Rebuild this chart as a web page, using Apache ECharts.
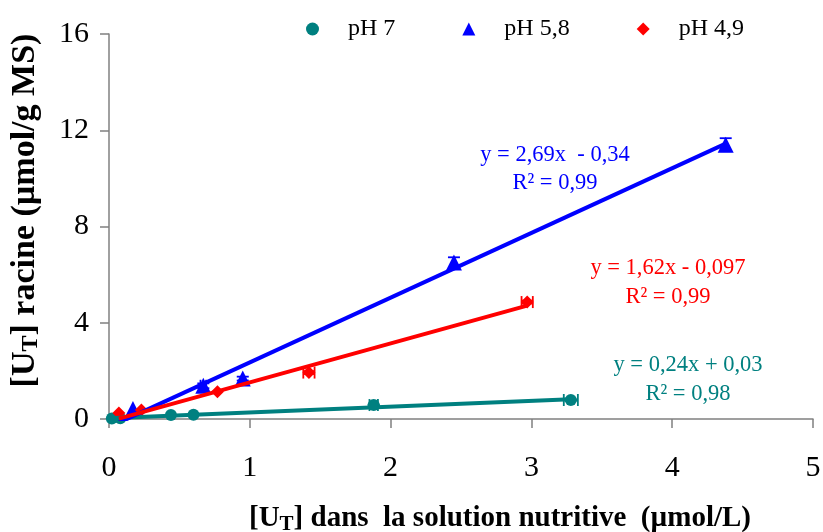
<!DOCTYPE html>
<html>
<head>
<meta charset="utf-8">
<script src="https://cdn.jsdelivr.net/npm/echarts@6/dist/echarts.min.js"></script>
<style>
  html, body { margin: 0; padding: 0; background: #fff; }
  #chart { width: 823px; height: 532px; }
</style>
</head>
<body>
<div id="chart"></div>
<script>
// Uranium in roots vs. uranium in nutrient solution, three pH levels
const seriesNames = ['pH 7', 'pH 5,8', 'pH 4,9'];
const colors = ['#008080', '#0000FF', '#FF0000'];

// Measured points [U in solution (µmol/L), U in root (µmol/g MS)]
const ph7Points = [[0.02, 0.02], [0.08, 0.03], [0.44, 0.17], [0.60, 0.18], [1.88, 0.58], [3.28, 0.79]];
const ph58Points = [[0.17, 0.42], [0.67, 1.38], [0.95, 1.68], [2.45, 6.50], [4.38, 11.40]];
const ph49Points = [[0.07, 0.25], [0.23, 0.37], [0.77, 1.13], [1.42, 1.93], [2.97, 4.86]];

// Error bars [x, y, yErr, xErr]
const ph7Errors = [[1.88, 0.58, 0.02, 0.03], [3.28, 0.79, 0.03, 0.05]];
const ph58Errors = [[0.67, 1.38, 0.10, 0.02], [0.95, 1.68, 0.08, 0.0], [2.45, 6.50, 0.22, 0.0], [4.38, 11.40, 0.27, 0.0]];
const ph49Errors = [[1.42, 1.93, 0.06, 0.04], [2.97, 4.86, 0.06, 0.04]];

// Linear fits: slope, intercept and fitted x-range
const slopes = [0.24, 2.69, 1.62];
const intercepts = [0.03, -0.34, -0.097];
const fitRanges = [[0.0, 3.28], [0.07, 4.38], [0.07, 2.97]];
const equations = ['y = 0,24x + 0,03', 'y = 2,69x  - 0,34', 'y = 1,62x - 0,097'];
const r2Labels = ['R² = 0,98', 'R² = 0,99', 'R² = 0,99'];

// Axis ticks
const xTicks = [0, 1, 2, 3, 4, 5];
const yTicks = [0, 4, 8, 12, 16];

const FONT = '"Liberation Serif", "Times New Roman", serif';
const symbols = ['circle', 'triangle', 'diamond'];
const symbolSizes = [12, 16, 13];
const pointSets = [ph7Points, ph58Points, ph49Points];
const errorSets = [ph7Errors, ph58Errors, ph49Errors];

function fitLine(i) {
  return fitRanges[i].map(x => [x, slopes[i] * x + intercepts[i]]);
}

function errorRenderer(color) {
  return function (params, api) {
    const x = api.value(0), y = api.value(1), ey = api.value(2), ex = api.value(3);
    const top = api.coord([x, y + ey]);
    const bot = api.coord([x, y - ey]);
    const left = api.coord([x - ex, y]);
    const right = api.coord([x + ex, y]);
    const cap = 6;
    const style = { stroke: color, lineWidth: 1.8 };
    const children = [];
    if (ey > 0) {
      children.push(
        { type: 'line', shape: { x1: top[0], y1: top[1], x2: bot[0], y2: bot[1] }, style },
        { type: 'line', shape: { x1: top[0] - cap, y1: top[1], x2: top[0] + cap, y2: top[1] }, style },
        { type: 'line', shape: { x1: bot[0] - cap, y1: bot[1], x2: bot[0] + cap, y2: bot[1] }, style }
      );
    }
    if (ex > 0) {
      children.push(
        { type: 'line', shape: { x1: left[0], y1: left[1], x2: right[0], y2: right[1] }, style },
        { type: 'line', shape: { x1: left[0], y1: left[1] - cap, x2: left[0], y2: left[1] + cap }, style },
        { type: 'line', shape: { x1: right[0], y1: right[1] - cap, x2: right[0], y2: right[1] + cap }, style }
      );
    }
    return { type: 'group', children };
  };
}

const series = [];
seriesNames.forEach((name, i) => {
  series.push({
    name: name,
    type: 'scatter',
    data: pointSets[i],
    symbol: symbols[i],
    symbolSize: symbolSizes[i],
    itemStyle: { color: colors[i], opacity: 1 },
    z: 3
  });
  series.push({
    type: 'custom',
    data: errorSets[i],
    renderItem: errorRenderer(colors[i]),
    encode: { x: 0, y: 1 },
    silent: true,
    z: 3
  });
  series.push({
    type: 'line',
    data: fitLine(i),
    showSymbol: false,
    symbol: 'none',
    lineStyle: { color: colors[i], width: 4 },
    clip: true,
    silent: true,
    z: 4
  });
});

const richSub = {
  sub: { fontSize: 21, fontWeight: 'bold', fontFamily: FONT, color: '#000', padding: [11, 0, 0, 0] }
};
const richSubY = {
  sub: { fontSize: 24, fontWeight: 'bold', fontFamily: FONT, color: '#000', padding: [12, 0, 0, 0] }
};

const eqPos = [[688, 365, 394], [555, 155, 183], [668, 268, 297]];
const graphics = [];
for (let i = 0; i < 3; i++) {
  graphics.push({
    type: 'text', x: eqPos[i][0], y: eqPos[i][1],
    style: { text: equations[i], fill: colors[i], font: '22.5px ' + FONT, align: 'center', verticalAlign: 'middle' }
  });
  graphics.push({
    type: 'text', x: eqPos[i][0], y: eqPos[i][2],
    style: { text: r2Labels[i], fill: colors[i], font: '22.5px ' + FONT, align: 'center', verticalAlign: 'middle' }
  });
}

const chart = echarts.init(document.getElementById('chart'), null, { renderer: 'canvas' });
chart.setOption({
  animation: false,
  backgroundColor: '#fff',
  grid: { left: 109, right: 10, top: 34, bottom: 113, containLabel: false, outerBoundsMode: 'none' },
  legend: {
    data: seriesNames.map((n, i) => ({ name: n, icon: symbols[i] })),
    left: 301, top: 12,
    itemWidth: 13, itemHeight: 13,
    itemGap: 67,
    textStyle: { fontFamily: FONT, fontSize: 24, color: '#000', padding: [0, 0, 0, 24] }
  },
  xAxis: {
    type: 'value',
    min: xTicks[0], max: xTicks[xTicks.length - 1], interval: 1,
    name: '[U{sub|T}] dans  la solution nutritive  (µmol/L)',
    nameLocation: 'middle', nameGap: 84,
    nameTextStyle: { fontFamily: FONT, fontSize: 29, fontWeight: 'bold', color: '#000', rich: richSub, padding: [0, 0, 0, 78] },
    axisLine: { lineStyle: { color: '#808080', width: 1.5 } },
    axisTick: { show: true, inside: false, length: 9, lineStyle: { color: '#808080', width: 1.5 } },
    axisLabel: { fontFamily: FONT, fontSize: 30, color: '#000', margin: 34 },
    splitLine: { show: false }
  },
  yAxis: {
    type: 'value',
    min: yTicks[0], max: yTicks[yTicks.length - 1], interval: 4,
    name: '[U{sub|T}] racine (µmol/g MS)',
    nameLocation: 'middle', nameGap: 66, nameRotate: 90,
    nameTextStyle: { fontFamily: FONT, fontSize: 34, fontWeight: 'bold', color: '#000', rich: richSubY, padding: [0, 0, 0, 32] },
    axisLine: { show: true, lineStyle: { color: '#808080', width: 1.5 } },
    axisTick: { show: true, inside: false, length: 9, lineStyle: { color: '#808080', width: 1.5 } },
    axisLabel: { fontFamily: FONT, fontSize: 30, color: '#000', margin: 20 },
    splitLine: { show: false }
  },
  series: series,
  graphic: graphics
});
</script>
</body>
</html>
